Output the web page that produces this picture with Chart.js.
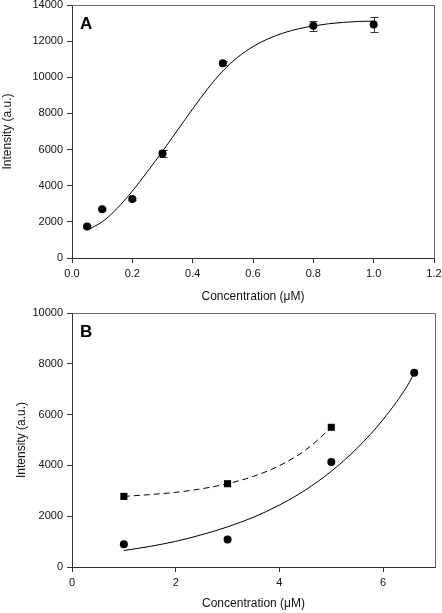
<!DOCTYPE html>
<html>
<head>
<meta charset="utf-8">
<script src="https://cdn.jsdelivr.net/npm/chart.js"></script>
<style>
body{margin:0;background:#fff;}
canvas{display:block;}
</style>
</head>
<body>
<canvas id="chartA" width="442" height="306"></canvas>
<canvas id="chartB" width="442" height="307"></canvas>
<script>
// ---------- Panel A data ----------
const concA = [0.05, 0.1, 0.2, 0.3, 0.5, 0.8, 1.0];
const intA = [1750, 2700, 3270, 5780, 10780, 12850, 12920];
const errA = [80, 60, 60, 200, 120, 280, 440];
// fitted curve
const fitAx = [0.05, 0.1, 0.15, 0.2, 0.25, 0.3, 0.35, 0.4, 0.45, 0.5, 0.55, 0.6, 0.65, 0.7, 0.75, 0.8, 0.85, 0.9, 0.95, 1.0];
const fitAy = [1550, 2000, 2750, 3700, 4780, 5900, 7080, 8250, 9370, 10350, 11120, 11700, 12130, 12450, 12680, 12840, 12960, 13040, 13090, 13110];

// ---------- Panel B data ----------
const circBx = [1, 3, 5, 6.6];
const circBy = [900, 1080, 4130, 7650];
const sqBx = [1, 3, 5];
const sqBy = [2780, 3280, 5500];
const fitBx = [1, 1.5, 2, 2.5, 3, 3.5, 4, 4.5, 5, 5.5, 6, 6.5, 6.6];
const fitBy = [650, 810, 1010, 1270, 1580, 1960, 2440, 3030, 3770, 4680, 5810, 7250, 7650];
const dashBx = [1, 1.5, 2, 2.5, 3, 3.5, 4, 4.5, 5];
const dashBy = [2780, 2850, 2940, 3080, 3280, 3570, 3990, 4600, 5480];

const FONT = "'Liberation Sans', Arial, sans-serif";

function pts(xs, ys){
    return xs.map((v, i) => ({x: v, y: ys[i]}));
}

// frame on top/right + panel letter
const framePlugin = {
    id: 'frame',
    afterDraw(chart, args, opts){
        const {ctx, chartArea: a} = chart;
        ctx.save();
        ctx.strokeStyle = '#666';
        ctx.lineWidth = 1;
        ctx.beginPath();
        ctx.moveTo(Math.round(a.left) + 0.5, Math.round(a.top) + 0.5);
        ctx.lineTo(Math.round(a.right) + 0.5, Math.round(a.top) + 0.5);
        ctx.lineTo(Math.round(a.right) + 0.5, Math.round(a.bottom) + 0.5);
        ctx.stroke();
        ctx.fillStyle = '#000';
        ctx.font = 'bold 17px ' + FONT;
        ctx.textBaseline = 'alphabetic';
        ctx.fillText(opts.letter, a.left + 8, a.top + 24);
        ctx.restore();
    }
};

const errorBars = {
    id: 'errorBars',
    beforeDatasetsDraw(chart, args, opts){
        if(!opts.err) return;
        const {ctx, scales: {x, y}} = chart;
        ctx.save();
        ctx.strokeStyle = '#333';
        ctx.lineWidth = 1;
        opts.xs.forEach((v, i) => {
            const px = Math.round(x.getPixelForValue(v)) + 0.5;
            const top = Math.round(y.getPixelForValue(opts.ys[i] + opts.err[i])) + 0.5;
            const bot = Math.round(y.getPixelForValue(opts.ys[i] - opts.err[i])) + 0.5;
            ctx.beginPath();
            ctx.moveTo(px, top); ctx.lineTo(px, bot);
            ctx.moveTo(px - 4, top); ctx.lineTo(px + 4, top);
            ctx.moveTo(px - 4, bot); ctx.lineTo(px + 4, bot);
            ctx.stroke();
        });
        ctx.restore();
    }
};

function axes(opt){
    return {
        x: {
            type: 'linear',
            min: opt.xmin, max: opt.xmax,
            ticks: {
                stepSize: opt.xstep,
                color: '#111',
                font: {family: FONT, size: 11},
                padding: 4,
                maxRotation: 0,
                callback: opt.xfmt
            },
            afterBuildTicks: opt.xfilter,
            grid: {drawOnChartArea: false, drawTicks: true, tickLength: 5, color: '#333'},
            border: {color: '#333', width: 1},
            title: {
                display: true,
                text: 'Concentration (\u03bcM)',
                color: '#111',
                font: {family: FONT, size: 12},
                padding: {top: 0, bottom: 1}
            },
            afterFit(s){ s.height = opt.xh; s.paddingLeft = 0; s.paddingRight = 0; }
        },
        y: {
            min: 0, max: opt.ymax,
            ticks: {
                stepSize: 2000,
                color: '#111',
                font: {family: FONT, size: 11},
                padding: 4,
                callback: v => String(v)
            },
            grid: {drawOnChartArea: false, drawTicks: true, tickLength: 5, color: '#333'},
            border: {color: '#333', width: 1},
            title: {
                display: true,
                text: 'Intensity (a.u.)',
                color: '#111',
                font: {family: FONT, size: 12},
                padding: {top: opt.ytpad, bottom: 0}
            },
            afterFit(s){ s.width = 72; s.paddingTop = 0; s.paddingBottom = 0; }
        }
    };
}

// ---------- Graph A ----------
new Chart(document.getElementById('chartA'), {
    type: 'scatter',
    data: {
        datasets: [{
            data: pts(fitAx, fitAy),
            showLine: true,
            borderColor: '#000',
            borderWidth: 1,
            pointRadius: 0,
            cubicInterpolationMode: 'monotone'
        }, {
            data: pts(concA, intA),
            pointRadius: 4,
            pointStyle: 'circle',
            backgroundColor: '#000',
            borderColor: '#000',
            borderWidth: 0
        }]
    },
    options: {
        animation: false,
        responsive: false,
        devicePixelRatio: 1,
        layout: {padding: {left: 0, right: 8, top: 5, bottom: 1}},
        plugins: {
            legend: {display: false},
            tooltip: {enabled: false},
            frame: {letter: 'A'},
            errorBars: {xs: concA, ys: intA, err: errA}
        },
        scales: axes({
            xmin: 0, xmax: 1.2, xstep: 0.2, ymax: 14000, xh: 47, ytpad: 0,
            xfmt: v => Number(v).toFixed(1)
        })
    },
    plugins: [framePlugin, errorBars]
});

// ---------- Graph B ----------
new Chart(document.getElementById('chartB'), {
    type: 'scatter',
    data: {
        datasets: [{
            data: pts(fitBx, fitBy),
            showLine: true,
            borderColor: '#000',
            borderWidth: 1,
            pointRadius: 0,
            cubicInterpolationMode: 'monotone'
        }, {
            data: pts(dashBx, dashBy),
            showLine: true,
            borderColor: '#000',
            borderWidth: 1,
            borderDash: [6, 4],
            pointRadius: 0,
            cubicInterpolationMode: 'monotone'
        }, {
            data: pts(circBx, circBy),
            pointRadius: 4,
            pointStyle: 'circle',
            backgroundColor: '#000',
            borderWidth: 0
        }, {
            data: pts(sqBx, sqBy),
            pointRadius: 5,
            pointStyle: 'rect',
            backgroundColor: '#000',
            borderWidth: 0
        }]
    },
    options: {
        animation: false,
        responsive: false,
        devicePixelRatio: 1,
        layout: {padding: {left: 0, right: 7, top: 7, bottom: 1}},
        plugins: {
            legend: {display: false},
            tooltip: {enabled: false},
            frame: {letter: 'B'}
        },
        scales: axes({
            xmin: 0, xmax: 7, xstep: 2, ymax: 10000, xh: 45, ytpad: 14,
            xfmt: v => v,
            xfilter: s => { s.ticks = s.ticks.filter(t => t.value % 2 === 0); }
        })
    },
    plugins: [framePlugin]
});
</script>
</body>
</html>
